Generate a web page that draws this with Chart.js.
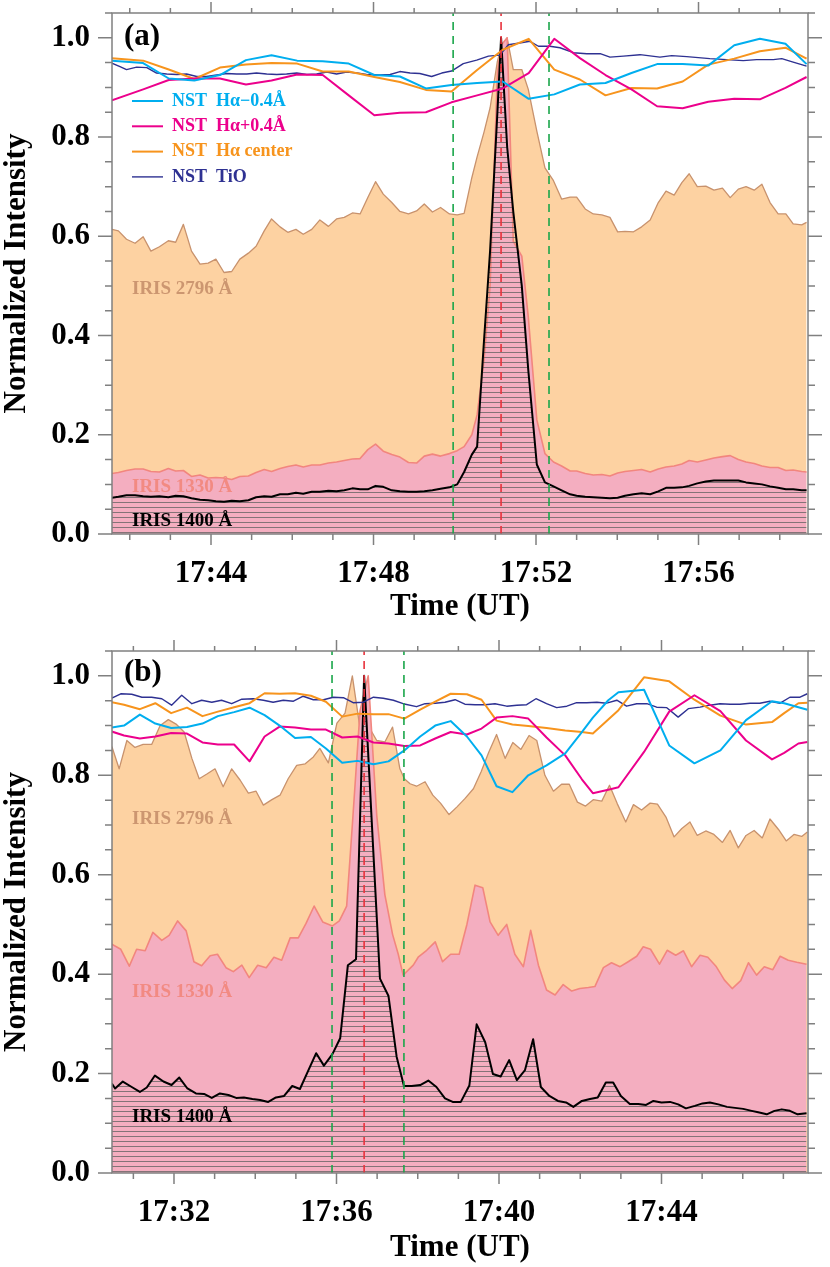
<!DOCTYPE html>
<html>
<head>
<meta charset="utf-8">
<script src="https://cdn.jsdelivr.net/npm/chart.js@4.4.1/dist/chart.umd.min.js"></script>
<style>
  body { margin: 0; background: #fff; }
  #wrap { position: relative; width: 830px; height: 1267px; }
  canvas { position: absolute; left: 0; }
</style>
</head>
<body>
<div id="wrap">
  <canvas id="ca" width="830" height="634" style="top:0;width:830px;height:634px"></canvas>
  <canvas id="cb" width="830" height="633" style="top:634px;width:830px;height:633px"></canvas>
</div>
<script>
// times are minutes after 17:00 UT
const yTicks = [0, 0.2, 0.4, 0.6, 0.8, 1.0];

// ---------- panel (a) ----------
const aTicks = ['17:44', '17:48', '17:52', '17:56'];
const aIrisT = [41.56,41.72,41.92,42.13,42.33,42.52,42.73,42.95,43.13,43.32,
  43.52,43.73,43.93,44.12,44.32,44.51,44.71,44.92,45.11,45.31,
  45.49,45.70,45.89,46.09,46.27,46.48,46.68,46.89,47.09,47.28,
  47.48,47.67,47.86,48.05,48.24,48.45,48.65,48.86,49.06,49.25,
  49.45,49.65,49.87,50.06,50.23,50.42,50.55,50.72,50.87,51.05,
  51.14,51.29,51.44,51.65,51.81,52.02,52.22,52.43,52.63,52.84,
  53.00,53.21,53.41,53.62,53.82,54.01,54.19,54.40,54.60,54.81,
  55.01,55.20,55.40,55.59,55.77,55.97,56.18,56.38,56.59,56.78,
  56.98,57.17,57.37,57.56,57.76,57.96,58.15,58.33,58.54,58.66];
const a2796 = [0.614,0.611,0.594,0.586,0.599,0.570,0.579,0.591,0.588,0.624,
  0.570,0.544,0.546,0.554,0.527,0.529,0.554,0.566,0.580,0.611,
  0.635,0.619,0.608,0.614,0.604,0.614,0.633,0.620,0.635,0.638,
  0.647,0.645,0.678,0.710,0.685,0.668,0.650,0.645,0.651,0.665,
  0.649,0.658,0.645,0.643,0.646,0.718,0.760,0.810,0.859,0.953,
  0.980,1.000,0.936,0.936,0.896,0.812,0.738,0.712,0.675,0.679,
  0.679,0.655,0.645,0.643,0.638,0.609,0.610,0.609,0.619,0.633,
  0.668,0.691,0.683,0.708,0.726,0.700,0.701,0.693,0.697,0.678,
  0.695,0.700,0.693,0.705,0.668,0.645,0.645,0.625,0.623,0.628];
const a1330 = [0.122,0.124,0.128,0.131,0.131,0.126,0.125,0.132,0.127,0.128,
  0.116,0.119,0.113,0.114,0.113,0.110,0.116,0.117,0.124,0.130,
  0.126,0.132,0.136,0.139,0.135,0.139,0.139,0.143,0.145,0.148,
  0.151,0.152,0.170,0.181,0.167,0.160,0.155,0.144,0.143,0.157,
  0.161,0.157,0.162,0.168,0.176,0.200,0.240,0.350,0.500,0.930,
  0.985,1.000,0.590,0.560,0.437,0.230,0.162,0.145,0.137,0.127,
  0.127,0.122,0.119,0.120,0.117,0.123,0.126,0.128,0.130,0.125,
  0.131,0.135,0.137,0.141,0.148,0.145,0.149,0.153,0.156,0.158,
  0.150,0.145,0.142,0.137,0.134,0.134,0.128,0.129,0.126,0.125];
const a1400 = [0.073,0.075,0.078,0.078,0.076,0.075,0.076,0.074,0.077,0.076,
  0.072,0.069,0.068,0.066,0.065,0.067,0.066,0.068,0.074,0.076,
  0.075,0.080,0.080,0.083,0.081,0.085,0.085,0.087,0.086,0.088,
  0.092,0.090,0.090,0.097,0.095,0.088,0.086,0.085,0.085,0.086,
  0.088,0.091,0.094,0.100,0.125,0.160,0.176,0.390,0.571,0.850,
  1.000,0.780,0.650,0.500,0.330,0.140,0.104,0.096,0.088,0.080,
  0.077,0.075,0.074,0.073,0.072,0.073,0.077,0.080,0.082,0.080,
  0.086,0.093,0.093,0.094,0.097,0.102,0.106,0.108,0.108,0.108,
  0.108,0.104,0.102,0.100,0.096,0.093,0.090,0.090,0.088,0.088];
const aNstT = [41.56,42.33,42.96,43.59,44.22,44.86,45.49,46.12,46.75,47.39,
  48.02,48.65,49.29,49.92,50.55,51.18,51.82,52.45,53.08,53.71,
  54.35,54.98,55.61,56.24,56.88,57.51,58.14,58.66];
const aHaMinus = [0.954,0.949,0.918,0.914,0.925,0.955,0.965,0.954,0.953,0.948,
  0.925,0.922,0.898,0.905,0.909,0.912,0.877,0.886,0.906,0.909,
  0.929,0.947,0.947,0.944,0.985,0.998,0.988,0.947];
const aHaPlus = [0.874,0.896,0.915,0.918,0.918,0.906,0.914,0.926,0.925,0.884,
  0.844,0.849,0.850,0.870,0.884,0.898,0.929,0.998,0.959,0.925,
  0.896,0.862,0.858,0.871,0.877,0.876,0.899,0.921];
const aHaCenter = [0.959,0.954,0.936,0.917,0.940,0.946,0.949,0.948,0.932,0.932,
  0.921,0.911,0.895,0.892,0.935,0.976,0.998,0.936,0.916,0.884,
  0.899,0.898,0.912,0.946,0.958,0.973,0.980,0.958];
const aTioT = [41.56,41.76,41.92,42.17,42.42,42.66,42.91,43.16,43.40,43.65,
  43.89,44.14,44.39,44.63,44.88,45.12,45.37,45.62,45.86,46.11,
  46.36,46.60,46.85,47.09,47.34,47.59,47.83,48.16,48.41,48.65,
  48.90,49.14,49.43,49.68,49.92,50.21,50.54,50.83,51.11,51.32,
  51.56,51.85,52.06,52.34,52.59,52.92,53.25,53.58,53.82,54.15,
  54.56,55.05,55.34,55.71,56.28,56.69,57.10,57.43,57.84,58.05,
  58.33,58.66];
const aTio = [0.949,0.942,0.936,0.941,0.940,0.929,0.927,0.926,0.927,0.922,
  0.922,0.925,0.928,0.927,0.927,0.929,0.927,0.926,0.927,0.929,
  0.926,0.927,0.931,0.927,0.931,0.929,0.926,0.925,0.926,0.932,
  0.929,0.928,0.922,0.929,0.933,0.948,0.955,0.963,0.965,0.986,
  0.989,0.993,0.983,0.983,0.980,0.970,0.968,0.968,0.961,0.963,
  0.966,0.961,0.964,0.962,0.958,0.956,0.954,0.956,0.956,0.958,
  0.951,0.943];
const aGreen = [49.96, 52.32];
const aRed = [51.14];

// ---------- panel (b) ----------
const bTicks = ['17:32', '17:36', '17:40', '17:44'];
const b2796T = [30.47,30.65,30.84,31.04,31.24,31.45,31.66,31.86,32.05,32.25,
  32.44,32.62,32.82,33.01,33.21,33.42,33.63,33.83,34.02,34.20,
  34.41,34.61,34.81,35.02,35.23,35.43,35.59,35.80,36.01,36.21,
  36.39,36.58,36.78,36.99,37.19,37.38,37.56,37.67,37.81,37.97,
  38.18,38.37,38.56,38.77,38.96,39.16,39.37,39.56,39.75,39.94,
  40.15,40.34,40.54,40.74,40.93,41.13,41.34,41.54,41.73,41.93,
  42.13,42.32,42.53,42.72,42.91,43.12,43.31,43.51,43.72,43.90,
  44.11,44.31,44.50,44.70,44.88,45.09,45.29,45.50,45.69,45.89,
  46.08,46.28,46.48,46.67,46.88,47.07,47.26,47.45,47.59];
const b2796 = [0.858,0.813,0.870,0.856,0.862,0.862,0.900,0.912,0.903,0.887,
  0.834,0.793,0.803,0.813,0.777,0.813,0.790,0.764,0.768,0.740,
  0.751,0.760,0.793,0.820,0.823,0.837,0.854,0.825,0.905,0.925,
  1.000,0.894,0.900,0.870,0.867,0.897,0.813,0.793,0.783,0.778,
  0.787,0.760,0.744,0.721,0.736,0.753,0.773,0.807,0.847,0.882,
  0.834,0.866,0.852,0.880,0.870,0.800,0.768,0.782,0.782,0.746,
  0.738,0.751,0.748,0.780,0.743,0.706,0.741,0.730,0.744,0.742,
  0.716,0.676,0.693,0.706,0.679,0.688,0.681,0.665,0.689,0.654,
  0.679,0.689,0.674,0.712,0.691,0.668,0.681,0.677,0.686];
const b1330T = [30.47,30.69,30.90,31.08,31.29,31.48,31.70,31.88,32.09,32.30,
  32.49,32.68,32.89,33.07,33.28,33.46,33.67,33.85,34.06,34.27,
  34.46,34.65,34.86,35.06,35.25,35.45,35.66,35.90,36.07,36.25,
  36.39,36.58,36.78,36.99,37.19,37.38,37.52,37.64,37.89,38.01,
  38.22,38.43,38.61,38.81,39.02,39.21,39.41,39.60,39.78,39.98,
  40.19,40.39,40.60,40.78,40.97,41.17,41.38,41.58,41.79,41.99,
  42.20,42.36,42.57,42.77,42.98,43.18,43.39,43.55,43.73,43.95,
  44.14,44.35,44.54,44.74,44.95,45.14,45.34,45.55,45.74,45.95,
  46.14,46.34,46.53,46.74,46.92,47.12,47.33,47.57];
const b1330 = [0.460,0.450,0.416,0.450,0.447,0.484,0.468,0.478,0.507,0.487,
  0.425,0.417,0.437,0.440,0.413,0.405,0.418,0.393,0.418,0.413,
  0.434,0.428,0.473,0.473,0.502,0.537,0.505,0.497,0.507,0.537,
  0.700,0.930,1.000,0.720,0.560,0.480,0.440,0.398,0.418,0.434,
  0.448,0.465,0.425,0.440,0.440,0.500,0.579,0.574,0.505,0.478,
  0.500,0.440,0.415,0.488,0.418,0.368,0.358,0.379,0.366,0.371,
  0.373,0.375,0.413,0.423,0.415,0.425,0.436,0.455,0.450,0.420,
  0.448,0.438,0.447,0.415,0.438,0.434,0.416,0.388,0.371,0.387,
  0.423,0.398,0.415,0.409,0.436,0.428,0.424,0.420];
const b1400T = [30.47,30.55,30.74,30.96,31.16,31.33,31.53,31.74,31.94,32.13,
  32.33,32.54,32.74,32.93,33.13,33.34,33.53,33.72,33.93,34.12,
  34.32,34.51,34.71,34.91,35.10,35.31,35.50,35.69,35.90,36.09,
  36.28,36.48,36.68,37.07,37.28,37.48,37.66,37.85,38.06,38.26,
  38.46,38.67,38.86,39.06,39.27,39.45,39.66,39.85,40.04,40.25,
  40.44,40.64,40.84,41.03,41.24,41.45,41.65,41.83,42.04,42.24,
  42.43,42.63,42.81,43.00,43.22,43.43,43.62,43.80,44.00,44.21,
  44.41,44.60,44.82,45.01,45.19,45.40,45.61,45.81,46.01,46.22,
  46.38,46.59,46.78,46.96,47.16,47.35,47.57];
const b1400 = [0.180,0.170,0.184,0.173,0.163,0.172,0.196,0.184,0.177,0.192,
  0.170,0.160,0.159,0.151,0.160,0.157,0.151,0.152,0.149,0.147,
  0.143,0.152,0.155,0.175,0.169,0.207,0.241,0.216,0.239,0.271,
  0.418,0.430,1.000,0.391,0.356,0.234,0.175,0.175,0.177,0.186,
  0.173,0.150,0.143,0.143,0.176,0.299,0.263,0.199,0.194,0.227,
  0.187,0.207,0.269,0.173,0.155,0.145,0.142,0.133,0.145,0.149,
  0.152,0.182,0.182,0.155,0.139,0.139,0.137,0.145,0.142,0.143,
  0.138,0.130,0.135,0.140,0.142,0.138,0.133,0.131,0.129,0.125,
  0.122,0.118,0.125,0.128,0.125,0.118,0.120];
const bNstT = [30.47,30.77,31.16,31.54,31.93,32.32,32.70,33.08,33.48,33.86,
  34.23,34.60,34.98,35.37,35.74,36.14,36.52,36.91,37.28,37.67,
  38.06,38.43,38.81,39.21,39.57,39.94,40.33,40.72,41.17,41.63,
  42.04,42.31,42.69,42.94,43.57,44.19,44.81,45.45,46.08,46.72,
  47.02,47.37,47.59];
const bHaMinus = [0.896,0.900,0.922,0.904,0.895,0.897,0.904,0.919,0.927,0.936,
  0.921,0.900,0.875,0.877,0.854,0.825,0.829,0.822,0.828,0.850,
  0.878,0.900,0.909,0.878,0.840,0.778,0.766,0.800,0.820,0.844,
  0.887,0.916,0.951,0.967,0.972,0.860,0.824,0.850,0.911,0.949,
  0.945,0.937,0.932];
const bHaPlus = [0.888,0.880,0.874,0.878,0.885,0.884,0.866,0.862,0.862,0.828,
  0.878,0.898,0.896,0.892,0.892,0.876,0.878,0.866,0.864,0.859,
  0.860,0.874,0.887,0.882,0.894,0.916,0.919,0.914,0.876,0.840,
  0.792,0.764,0.771,0.776,0.847,0.928,0.961,0.929,0.870,0.832,
  0.845,0.864,0.867];
const bHaCenter = [0.947,0.942,0.933,0.945,0.925,0.936,0.919,0.928,0.937,0.945,
  0.965,0.964,0.965,0.960,0.948,0.918,0.924,0.923,0.923,0.914,
  0.932,0.948,0.964,0.963,0.952,0.910,0.902,0.899,0.895,0.890,
  0.887,0.884,0.912,0.931,0.997,0.989,0.952,0.920,0.902,0.907,
  0.925,0.945,0.946];
const bTioT = [30.47,30.69,30.96,31.21,31.45,31.70,31.94,32.19,32.44,32.68,
  32.93,33.17,33.42,33.67,33.95,34.20,34.44,34.69,34.94,35.18,
  35.43,35.68,35.92,36.17,36.41,36.66,36.91,37.15,37.40,37.64,
  37.97,38.18,38.43,38.67,38.92,39.16,39.41,39.66,39.90,40.19,
  40.44,40.68,40.91,41.17,41.42,41.67,41.91,42.16,42.41,42.65,
  42.90,43.14,43.39,43.64,43.88,44.13,44.41,44.66,44.95,45.19,
  45.44,45.69,45.93,46.18,46.42,46.67,46.92,47.16,47.41,47.59];
const bTio = [0.955,0.964,0.963,0.957,0.957,0.954,0.941,0.961,0.944,0.951,
  0.947,0.951,0.944,0.953,0.954,0.951,0.947,0.951,0.949,0.959,
  0.952,0.952,0.957,0.956,0.946,0.947,0.957,0.955,0.951,0.944,
  0.938,0.944,0.945,0.947,0.952,0.943,0.942,0.942,0.944,0.939,
  0.941,0.942,0.954,0.944,0.936,0.939,0.946,0.946,0.947,0.945,
  0.951,0.939,0.944,0.944,0.937,0.936,0.917,0.934,0.937,0.941,
  0.944,0.943,0.943,0.945,0.945,0.949,0.945,0.957,0.957,0.964];
const bGreen = [35.89, 37.66];
const bRed = [36.68];

// ---------- drawing ----------
const SERIF = '"Liberation Serif", "Times New Roman", serif';
const AXIS = '#808080';
const C = {
  fill2796: '#FDD2A2', line2796: '#C8926D', text2796: '#CC9670',
  fill1330: '#F4AEC0', line1330: '#F2867E', text1330: '#F28A82',
  haMinus: '#00AEEF', haPlus: '#EC008C', haCenter: '#F7941D', tio: '#2E3192',
  green: '#1AA64A', red: '#E8323C'
};
const F31 = { family: SERIF, size: 31, weight: 'bold', lineHeight: 1 };

function toMin(s) {
  const p = s.split(':').map(Number);
  return (p[0] - 17) * 60 + p[1];
}
function fmt(v) {
  const m = Math.round(v);
  return (17 + Math.floor(m / 60)) + ':' + String(m % 60).padStart(2, '0');
}
function pts(T, V) { return T.map((t, i) => ({ x: t, y: V[i] })); }
function line(T, V, color, w, order) {
  return { data: pts(T, V), borderColor: color, borderWidth: w, pointRadius: 0,
    pointHoverRadius: 0, fill: false, order: order, borderJoinStyle: 'round' };
}
function vline(t, color) {
  return { data: [{ x: t, y: 0 }, { x: t, y: 1.05 }], borderColor: color, borderWidth: 1.6,
    borderDash: [8, 6], pointRadius: 0, fill: false, order: 0 };
}
function hatch(ctx) {
  const c = document.createElement('canvas');
  c.width = 8; c.height = 5;
  const g = c.getContext('2d');
  g.fillStyle = 'rgba(95,95,95,0.75)';
  g.fillRect(0, 2, 8, 1);
  return ctx.createPattern(c, 'repeat');
}

const frame = {
  id: 'frame',
  afterDatasetsDraw(chart, args, o) {
    const { ctx, chartArea: a, scales: { x, y } } = chart;
    const majors = o.ticks.map(toMin);
    ctx.save();
    ctx.strokeStyle = AXIS;
    ctx.lineWidth = 1.5;
    ctx.strokeRect(a.left, a.top, a.right - a.left, a.bottom - a.top);
    ctx.beginPath();
    for (let m = Math.ceil(x.min); m <= x.max; m++) {
      const px = x.getPixelForValue(m);
      const big = majors.includes(m);
      ctx.moveTo(px, a.bottom); ctx.lineTo(px, a.bottom + (big ? 11 : 6));
      ctx.moveTo(px, a.top); ctx.lineTo(px, a.top - (big ? 11 : 5));
    }
    for (let k = 0; k * 0.05 <= y.max + 1e-9; k++) {
      const py = y.getPixelForValue(k * 0.05);
      const l = k % 4 === 0 ? 14 : 7;
      ctx.moveTo(a.left, py); ctx.lineTo(a.left - l, py);
      ctx.moveTo(a.right, py); ctx.lineTo(a.right + l, py);
    }
    ctx.stroke();

    ctx.textBaseline = 'middle';
    ctx.textAlign = 'left';
    ctx.fillStyle = '#000';
    ctx.font = 'bold 31px ' + SERIF;
    ctx.fillText(o.letter, 124, o.letterY);

    ctx.font = 'bold 19px ' + SERIF;
    ctx.fillStyle = C.text2796; ctx.fillText('IRIS 2796 Å', 132, o.lab[0]);
    ctx.fillStyle = C.text1330; ctx.fillText('IRIS 1330 Å', 132, o.lab[1]);
    ctx.fillStyle = '#000'; ctx.fillText('IRIS 1400 Å', 132, o.lab[2]);

    if (o.legend) {
      const rows = [['NST  Hα\u22120.4Å', C.haMinus, 2], ['NST  Hα+0.4Å', C.haPlus, 2],
        ['NST  Hα center', C.haCenter, 2], ['NST  TiO', C.tio, 1.4]];
      ctx.font = 'bold 18px ' + SERIF;
      rows.forEach((r, i) => {
        const yy = 101 + i * 25.3;
        ctx.strokeStyle = r[1]; ctx.lineWidth = r[2];
        ctx.beginPath(); ctx.moveTo(132, yy); ctx.lineTo(163, yy); ctx.stroke();
        ctx.fillStyle = r[1]; ctx.fillText(r[0], 172, yy);
      });
    }
    ctx.restore();
  }
};

function makeChart(id, d) {
  const ctx = document.getElementById(id).getContext('2d');
  const ds = [];
  d.green.forEach(t => ds.push(vline(t, C.green)));
  d.red.forEach(t => ds.push(vline(t, C.red)));
  ds.push(line(d.nstT, d.haMinus, C.haMinus, 2, 1));
  ds.push(line(d.nstT, d.haPlus, C.haPlus, 2, 1));
  ds.push(line(d.nstT, d.haCenter, C.haCenter, 2, 1));
  ds.push(line(d.tioT, d.tio, C.tio, 1.4, 1));
  ds.push(Object.assign(line(d.t1400, d.v1400, '#000', 2, 2), { fill: 'origin', backgroundColor: hatch(ctx) }));
  ds.push(Object.assign(line(d.t1330, d.v1330, C.line1330, 1.6, 3), { fill: 'origin', backgroundColor: C.fill1330 }));
  ds.push(Object.assign(line(d.t2796, d.v2796, C.line2796, 1.3, 4), { fill: 'origin', backgroundColor: C.fill2796 }));

  return new Chart(ctx, {
    type: 'line',
    data: { datasets: ds },
    options: {
      responsive: false,
      animation: false,
      layout: { padding: { top: d.top, right: 22, left: 0, bottom: 0 } },
      plugins: {
        legend: { display: false },
        tooltip: { enabled: false },
        frame: { ticks: d.ticks, letter: d.letter, letterY: d.letterY, lab: d.lab, legend: d.legend }
      },
      scales: {
        x: {
          type: 'linear', min: d.range[0], max: d.range[1],
          afterBuildTicks: s => { s.ticks = d.ticks.map(l => ({ value: toMin(l) })); },
          afterFit: s => { s.height = d.xh; s.paddingLeft = 0; s.paddingRight = 0; },
          grid: { display: false, drawTicks: false },
          border: { display: false },
          ticks: { autoSkip: false, maxRotation: 0, padding: 24.5, color: '#000', font: F31,
            callback: v => fmt(v) },
          title: { display: true, text: 'Time (UT)', color: '#000', font: F31,
            padding: { top: 0, bottom: d.titlePad } }
        },
        y: {
          type: 'linear', min: 0, max: 1.05,
          afterBuildTicks: s => { s.ticks = yTicks.map(v => ({ value: v })); },
          afterFit: s => { s.width = 112; s.paddingTop = 0; s.paddingBottom = 0; },
          grid: { display: false, drawTicks: false },
          border: { display: false },
          ticks: { padding: 22, color: '#000', font: F31, callback: v => v.toFixed(1) },
          title: { display: true, text: 'Normalized Intensity', color: '#000', font: F31,
            padding: { top: 1, bottom: 0 } }
        }
      }
    },
    plugins: [frame]
  });
}

makeChart('ca', {
  t2796: aIrisT, v2796: a2796, t1330: aIrisT, v1330: a1330, t1400: aIrisT, v1400: a1400,
  nstT: aNstT, haMinus: aHaMinus, haPlus: aHaPlus, haCenter: aHaCenter,
  tioT: aTioT, tio: aTio, green: aGreen, red: aRed,
  range: [41.563, 58.695], ticks: aTicks, top: 13, xh: 100, titlePad: 11.5,
  letter: '(a)', letterY: 37, lab: [289, 487, 521], legend: true
});
makeChart('cb', {
  t2796: b2796T, v2796: b2796, t1330: b1330T, v1330: b1330, t1400: b1400T, v1400: b1400,
  nstT: bNstT, haMinus: bHaMinus, haPlus: bHaPlus, haCenter: bHaCenter,
  tioT: bTioT, tio: bTio, green: bGreen, red: bRed,
  range: [30.474, 47.606], ticks: bTicks, top: 17, xh: 94, titlePad: 3.5,
  letter: '(b)', letterY: 39, lab: [185, 358, 483], legend: false
});
</script>
</body>
</html>
